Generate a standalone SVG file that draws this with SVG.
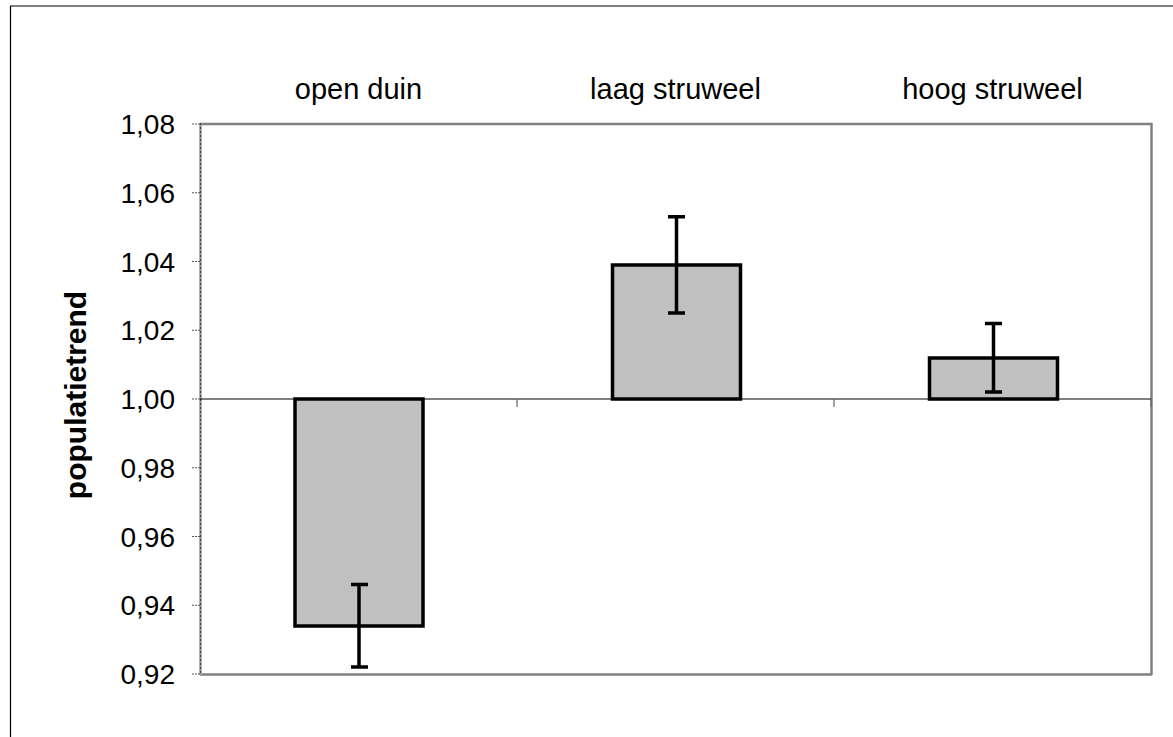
<svg xmlns="http://www.w3.org/2000/svg" width="1173" height="737" viewBox="0 0 1173 737">
<style>
text{font-family:"Liberation Sans",Arial,sans-serif;fill:#000}
.tick{font-size:28px;text-anchor:end}
.cat{font-size:29px;text-anchor:middle}
.title{font-size:30px;font-weight:bold;text-anchor:middle}
.bar{fill:#c0c0c0;stroke:#000;stroke-width:3.5}
.err{stroke:#000;stroke-width:3.5;fill:none}
.ytk{stroke:#555;stroke-width:1;stroke-dasharray:2,1}
.xtk{stroke:#666;stroke-width:1.2}
</style>
<rect x="0" y="0" width="1173" height="737" fill="#fff"/>
<g id="frame">
<line x1="10" y1="6" x2="1173" y2="6" stroke="#808080" stroke-width="2"/>
<line x1="10.5" y1="6" x2="10.5" y2="737" stroke="#000" stroke-width="1.2"/>
</g>
<g id="plot-area">
<line x1="200" y1="124" x2="1152" y2="124" stroke="#808080" stroke-width="2.5"/>
<line x1="1151.5" y1="123" x2="1151.5" y2="675" stroke="#808080" stroke-width="2.5"/>
<line x1="200" y1="674.5" x2="1152" y2="674.5" stroke="#808080" stroke-width="2.5"/>
<line x1="200.5" y1="123" x2="200.5" y2="675" stroke="#999" stroke-width="2.5"/>
<line x1="200.5" y1="123" x2="200.5" y2="675" stroke="#404040" stroke-width="1" stroke-dasharray="2,2"/>
</g>
<g id="y-axis">
<line class="ytk" x1="192" y1="124" x2="200" y2="124"/>
<line class="ytk" x1="192" y1="192.75" x2="200" y2="192.75"/>
<line class="ytk" x1="192" y1="261.5" x2="200" y2="261.5"/>
<line class="ytk" x1="192" y1="330.25" x2="200" y2="330.25"/>
<line class="ytk" x1="192" y1="399" x2="200" y2="399"/>
<line class="ytk" x1="192" y1="467.75" x2="200" y2="467.75"/>
<line class="ytk" x1="192" y1="536.5" x2="200" y2="536.5"/>
<line class="ytk" x1="192" y1="605.25" x2="200" y2="605.25"/>
<line class="ytk" x1="192" y1="674" x2="200" y2="674"/>
<text class="tick" x="175" y="134">1,08</text>
<text class="tick" x="175" y="202.75">1,06</text>
<text class="tick" x="175" y="271.5">1,04</text>
<text class="tick" x="175" y="340.25">1,02</text>
<text class="tick" x="175" y="409">1,00</text>
<text class="tick" x="175" y="477.75">0,98</text>
<text class="tick" x="175" y="546.5">0,96</text>
<text class="tick" x="175" y="615.25">0,94</text>
<text class="tick" x="175" y="684">0,92</text>
<text class="title" transform="translate(86,395) rotate(-90)">populatietrend</text>
</g>
<g id="x-axis">
<line x1="200" y1="399" x2="1151" y2="399" stroke="#000" stroke-width="1.2"/>
<line class="xtk" x1="517" y1="399" x2="517" y2="407"/>
<line class="xtk" x1="834" y1="399" x2="834" y2="407"/>
<line class="xtk" x1="1151" y1="399" x2="1151" y2="407"/>
</g>
<g id="open-duin">
<text class="cat" x="358.5" y="99">open duin</text>
<rect class="bar" x="295" y="399" width="128" height="227"/>
</g>
<g id="laag-struweel">
<text class="cat" x="675.5" y="99">laag struweel</text>
<rect class="bar" x="612.5" y="265" width="128" height="134"/>
</g>
<g id="hoog-struweel">
<text class="cat" x="992.5" y="99">hoog struweel</text>
<rect class="bar" x="929.5" y="358" width="128" height="41"/>
</g>
<g id="error-bars">
<path class="err" d="M359 584.6V667.1M351 584.6H368M351 667.1H368"/>
<path class="err" d="M676.5 216.8V313.1M668 216.8H685M668 313.1H685"/>
<path class="err" d="M993.5 323.4V392.1M985 323.4H1002M985 392.1H1002"/>
</g>
</svg>
